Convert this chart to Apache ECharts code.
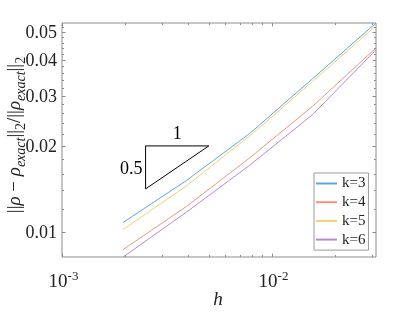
<!DOCTYPE html>
<html><head><meta charset="utf-8">
<script src="https://cdn.jsdelivr.net/npm/echarts@6/dist/echarts.min.js"></script>
<style>html,body{margin:0;padding:0;background:#fff}#c{width:415px;height:312px}</style>
</head><body><div id="c"></div>
<script>
// ---- data ----
const h = [0.001953125, 0.00390625, 0.0078125, 0.015625, 0.03125];
const seriesNames = ['k=3', 'k=4', 'k=5', 'k=6'];
const k3 = [0.01079, 0.01512, 0.02208, 0.03442, 0.05385];
const k4 = [0.00867, 0.01227, 0.01814, 0.02756, 0.04402];
const k5 = [0.01020, 0.01447, 0.02167, 0.03365, 0.05270];
const k6 = [0.00817, 0.01172, 0.01710, 0.02577, 0.04340];
const seriesColors = ['#5aa7df', '#ee9577', '#f3cf6f', '#b98acb'];
const xMajorTicks = [0.001, 0.01];
const xTickExponents = ['-3', '-2'];
const xMinorTicks = [0.002, 0.003, 0.004, 0.005, 0.006, 0.007, 0.008, 0.009, 0.02, 0.03];
const yMajorTicks = [0.01, 0.02, 0.03, 0.04, 0.05];
const yTickLabels = ['0.01', '0.02', '0.03', '0.04', '0.05'];
const yMinorTicks = [0.012, 0.014, 0.016, 0.018, 0.022, 0.024, 0.026, 0.028, 0.032, 0.034, 0.036, 0.038,
                     0.042, 0.044, 0.046, 0.048, 0.052];
const slopeX = [0.0025, 0.0025, 0.005, 0.0025];
const slopeY = [0.02 / Math.SQRT2, 0.02, 0.02, 0.02 / Math.SQRT2];
const xRange = [0.001, 0.03125];

const allY = k3.concat(k4, k5, k6);
const yRange = [Math.min.apply(null, allY), Math.max.apply(null, allY)];
const values = [k3, k4, k5, k6];
const FONT = 'Liberation Serif';
const AX = '#8c8c8c';
const TXT = '#222';

function tok(size, italic, va, lh) {
  return {
    font: (italic ? 'italic ' : '') + size + 'px "' + FONT + '"',
    fontFamily: FONT, fontSize: size, fontStyle: italic ? 'italic' : 'normal',
    lineHeight: lh, verticalAlign: va, fill: TXT
  };
}

const chart = echarts.init(document.getElementById('c'), null, {renderer: 'canvas'});
const hiddenAxis = {
  axisLine: {show: false}, axisTick: {show: false}, axisLabel: {show: false},
  splitLine: {show: false}, minorTick: {show: false}
};
const series = seriesNames.map((n, i) => ({
  name: n, type: 'line', symbol: 'none', silent: true,
  data: h.map((x, j) => [x, values[i][j]]),
  lineStyle: {width: 1, color: seriesColors[i]},
  itemStyle: {color: seriesColors[i]}
}));
series.push({
  name: 'slope', type: 'line', symbol: 'none', silent: true,
  data: slopeX.map((x, j) => [x, slopeY[j]]),
  lineStyle: {width: 1, color: '#000'}, itemStyle: {color: '#000'}
});
chart.setOption({
  animation: false,
  grid: {left: 62, top: 23, width: 314, height: 234, show: true, borderColor: AX, borderWidth: 1},
  xAxis: Object.assign({type: 'log', logBase: 10, min: xRange[0], max: xRange[1]}, hiddenAxis),
  yAxis: Object.assign({type: 'log', logBase: 10, min: yRange[0], max: yRange[1]}, hiddenAxis),
  legend: {
    data: seriesNames, orient: 'vertical', left: 314, top: 173,
    itemWidth: 21, itemHeight: 2, itemGap: 1.7, icon: 'rect',
    padding: [2, 3, 2, 2], borderColor: '#9a9a9a', borderWidth: 1, backgroundColor: '#fff',
    textStyle: {fontFamily: FONT, fontSize: 15, color: TXT, lineHeight: 17},
    selectedMode: false
  },
  series: series
});

const P = (x, y) => chart.convertToPixel({gridIndex: 0}, [x, y]);
const g0 = P(xRange[0], yRange[0]);
const g1 = P(xRange[1], yRange[1]);
const L = g0[0], B = g0[1], R = g1[0], T = g1[1];
const els = [];
function line(x1, y1, x2, y2) {
  els.push({type: 'line', silent: true, z: 10,
    shape: {x1: x1, y1: y1, x2: x2, y2: y2}, style: {stroke: AX, lineWidth: 1}});
}
function xt(v, len) {
  const px = Math.round(P(v, yRange[0])[0]) + 0.5;
  line(px, B, px, B - len); line(px, T, px, T + len);
  return px;
}
function yt(v, len) {
  const py = Math.round(P(xRange[0], v)[1]) + 0.5;
  line(L, py, L + len, py); line(R, py, R - len, py);
  return py;
}
xMinorTicks.forEach(v => xt(v, 2));
yMinorTicks.forEach(v => yt(v, 2));
xMajorTicks.forEach((v, i) => {
  const px = xt(v, 3.5);
  els.push({type: 'text', silent: true, x: px + 1, y: B + 13,
    style: {text: '{b|10}{s|' + xTickExponents[i] + '}', align: 'center', verticalAlign: 'top',
      font: '19px "' + FONT + '"',
      rich: {b: tok(19, false, 'bottom', 22), s: tok(13, false, 'top', 22)}}});
});
yMajorTicks.forEach((v, i) => {
  const py = yt(v, 3.5);
  els.push({type: 'text', silent: true, x: L - 5, y: py + 1,
    style: {text: yTickLabels[i], align: 'right', verticalAlign: 'middle',
      fontFamily: FONT, fontSize: 18, fill: TXT}});
});
// axis titles
els.push({type: 'text', silent: true, x: (L + R) / 2 - 1, y: 300,
  style: {text: 'h', align: 'center', verticalAlign: 'middle', fontFamily: FONT,
    fontStyle: 'italic', fontSize: 19, fill: TXT}});
els.push({type: 'text', silent: true, x: 15, y: 135, rotation: Math.PI / 2,
  style: {
    text: '{n|||}{i|ρ}{n| − }{i|ρ}{si|exact}{n|||}{s|2}{n|/||}{i|ρ}{si|exact}{n|||}{s|2}',
    align: 'center', verticalAlign: 'middle',
    font: '19px "' + FONT + '"',
    rich: {
      n: tok(19, false, 'middle', 26), i: tok(19, true, 'middle', 26),
      si: tok(14, true, 'bottom', 26), s: tok(14, false, 'bottom', 26)
    }}});
// slope triangle labels
const tTop = P(Math.sqrt(slopeX[0] * slopeX[2]), slopeY[1]);
els.push({type: 'text', silent: true, x: tTop[0], y: tTop[1] - 12,
  style: {text: '1', align: 'center', verticalAlign: 'middle', fontFamily: FONT, fontSize: 18, fill: '#000'}});
const tMid = P(slopeX[0], Math.sqrt(slopeY[0] * slopeY[1]));
els.push({type: 'text', silent: true, x: tMid[0] - 3, y: tMid[1] + 2,
  style: {text: '0.5', align: 'right', verticalAlign: 'middle', fontFamily: FONT, fontSize: 18, fill: '#000'}});
chart.setOption({graphic: {elements: els}});
</script>
</body></html>
